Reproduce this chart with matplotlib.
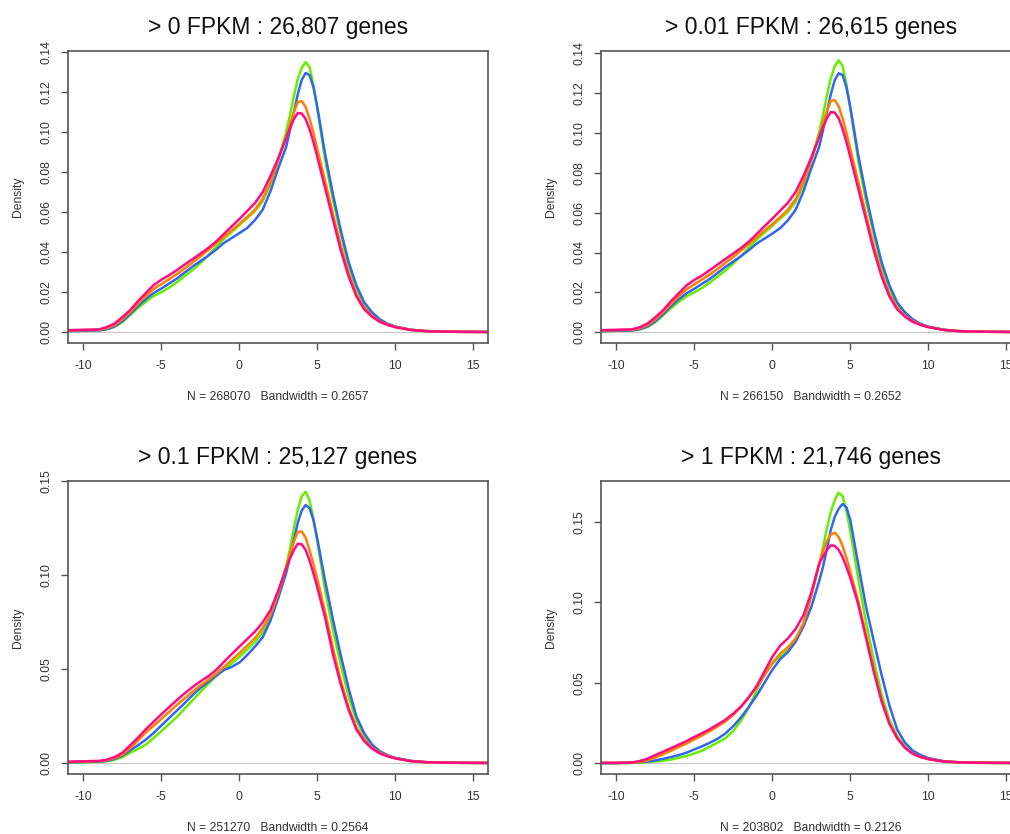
import matplotlib
matplotlib.use("Agg")
import matplotlib.pyplot as plt

plt.rcParams['font.family'] = ['Liberation Sans', 'DejaVu Sans']

x_grid = [-11, -10, -9, -8.5, -8, -7.5, -7, -6.5, -6, -5.5, -5, -4.5, -4, -3.5, -3, -2.5,
          -2, -1.5, -1, -0.5, 0, 0.5, 1, 1.5, 2, 2.5, 3, 3.25, 3.5, 3.75, 4, 4.25, 4.5,
          4.75, 5, 5.5, 6, 6.5, 7, 7.5, 8, 8.5, 9, 9.5, 10, 11, 12, 13, 14, 16]

# > 0 FPKM
p1_green = [0.0005, 0.0007, 0.0009, 0.0014, 0.0027, 0.0050, 0.0085, 0.0120, 0.0152, 0.0180,
            0.0200, 0.0222, 0.0250, 0.0280, 0.0310, 0.0345, 0.0383, 0.0425, 0.0465, 0.0500,
            0.0535, 0.0570, 0.0605, 0.0655, 0.0740, 0.0860, 0.1000, 0.1085, 0.1180, 0.1265,
            0.1320, 0.1350, 0.1325, 0.1235, 0.1115, 0.0860, 0.0660, 0.0490, 0.0330, 0.0215,
            0.0140, 0.0090, 0.0060, 0.0040, 0.0027, 0.0011, 0.0005, 0.0003, 0.0002, 0.0001]
p1_blue = [0.0005, 0.0007, 0.0009, 0.0015, 0.0028, 0.0055, 0.0090, 0.0130, 0.0165, 0.0195,
           0.0218, 0.0243, 0.0268, 0.0298, 0.0328, 0.0355, 0.0382, 0.0412, 0.0445, 0.0470,
           0.0495, 0.0520, 0.0560, 0.0612, 0.0705, 0.0820, 0.0925, 0.1010, 0.1100, 0.1190,
           0.1260, 0.1295, 0.1285, 0.1225, 0.1125, 0.0890, 0.0690, 0.0510, 0.0352, 0.0235,
           0.0150, 0.0100, 0.0065, 0.0042, 0.0028, 0.0012, 0.0005, 0.0003, 0.0002, 0.0001]
p1_orange = [0.0008, 0.0010, 0.0012, 0.0020, 0.0035, 0.0065, 0.0100, 0.0142, 0.0180, 0.0215,
             0.0240, 0.0265, 0.0290, 0.0318, 0.0348, 0.0378, 0.0410, 0.0443, 0.0475, 0.0508,
             0.0540, 0.0575, 0.0612, 0.0665, 0.0750, 0.0860, 0.0975, 0.1040, 0.1100, 0.1150,
             0.1155, 0.1125, 0.1068, 0.0995, 0.0915, 0.0755, 0.0590, 0.0432, 0.0295, 0.0190,
             0.0122, 0.0082, 0.0055, 0.0038, 0.0026, 0.0012, 0.0006, 0.0003, 0.0002, 0.0001]
p1_pink = [0.0010, 0.0012, 0.0014, 0.0025, 0.0043, 0.0075, 0.0110, 0.0155, 0.0195, 0.0235,
           0.0262, 0.0285, 0.0310, 0.0338, 0.0365, 0.0392, 0.0420, 0.0452, 0.0490, 0.0528,
           0.0565, 0.0605, 0.0645, 0.0700, 0.0780, 0.0870, 0.0970, 0.1020, 0.1065, 0.1095,
           0.1093, 0.1065, 0.1015, 0.0950, 0.0875, 0.0720, 0.0565, 0.0410, 0.0280, 0.0180,
           0.0115, 0.0078, 0.0052, 0.0036, 0.0025, 0.0011, 0.0005, 0.0003, 0.0002, 0.0001]

# > 0.01 FPKM
p2_green = [0.0005, 0.0007, 0.0009, 0.0014, 0.0027, 0.0050, 0.0085, 0.0120, 0.0152, 0.0180,
            0.0200, 0.0222, 0.0250, 0.0280, 0.0310, 0.0345, 0.0383, 0.0425, 0.0465, 0.0500,
            0.0535, 0.0570, 0.0605, 0.0655, 0.0740, 0.0862, 0.1005, 0.1090, 0.1188, 0.1275,
            0.1335, 0.1365, 0.1338, 0.1245, 0.1122, 0.0865, 0.0662, 0.0492, 0.0332, 0.0216,
            0.0140, 0.0090, 0.0060, 0.0040, 0.0027, 0.0011, 0.0005, 0.0003, 0.0002, 0.0001]
p2_blue = [0.0005, 0.0007, 0.0009, 0.0015, 0.0028, 0.0055, 0.0090, 0.0130, 0.0165, 0.0195,
           0.0218, 0.0243, 0.0268, 0.0298, 0.0328, 0.0355, 0.0382, 0.0412, 0.0445, 0.0470,
           0.0495, 0.0522, 0.0562, 0.0615, 0.0708, 0.0823, 0.0930, 0.1015, 0.1105, 0.1195,
           0.1265, 0.1300, 0.1292, 0.1230, 0.1130, 0.0893, 0.0692, 0.0512, 0.0353, 0.0236,
           0.0150, 0.0100, 0.0065, 0.0042, 0.0028, 0.0012, 0.0005, 0.0003, 0.0002, 0.0001]
p2_orange = [0.0008, 0.0010, 0.0012, 0.0020, 0.0035, 0.0065, 0.0100, 0.0142, 0.0180, 0.0215,
             0.0240, 0.0265, 0.0290, 0.0318, 0.0348, 0.0378, 0.0410, 0.0443, 0.0476, 0.0510,
             0.0542, 0.0578, 0.0615, 0.0668, 0.0755, 0.0865, 0.0982, 0.1048, 0.1110, 0.1162,
             0.1165, 0.1135, 0.1075, 0.1002, 0.0920, 0.0758, 0.0592, 0.0433, 0.0296, 0.0190,
             0.0122, 0.0082, 0.0055, 0.0038, 0.0026, 0.0012, 0.0006, 0.0003, 0.0002, 0.0001]
p2_pink = [0.0010, 0.0012, 0.0014, 0.0025, 0.0043, 0.0075, 0.0110, 0.0155, 0.0195, 0.0235,
           0.0262, 0.0285, 0.0312, 0.0340, 0.0368, 0.0395, 0.0423, 0.0455, 0.0493, 0.0532,
           0.0570, 0.0610, 0.0650, 0.0705, 0.0785, 0.0877, 0.0978, 0.1030, 0.1075, 0.1105,
           0.1103, 0.1075, 0.1022, 0.0955, 0.0880, 0.0723, 0.0567, 0.0412, 0.0281, 0.0180,
           0.0115, 0.0078, 0.0052, 0.0036, 0.0025, 0.0011, 0.0005, 0.0003, 0.0002, 0.0001]

# > 0.1 FPKM
p3_green = [0.0003, 0.0005, 0.0007, 0.0010, 0.0018, 0.0032, 0.0055, 0.0075, 0.0098, 0.0133,
            0.0170, 0.0208, 0.0246, 0.0290, 0.0335, 0.0378, 0.0422, 0.0462, 0.0498, 0.0530,
            0.0565, 0.0605, 0.0645, 0.0695, 0.0780, 0.0905, 0.1050, 0.1140, 0.1250, 0.1350,
            0.1420, 0.1445, 0.1400, 0.1300, 0.1180, 0.0920, 0.0710, 0.0525, 0.0355, 0.0228,
            0.0146, 0.0094, 0.0060, 0.0040, 0.0027, 0.0011, 0.0005, 0.0003, 0.0002, 0.0001]
p3_blue = [0.0004, 0.0006, 0.0008, 0.0012, 0.0022, 0.0040, 0.0068, 0.0095, 0.0125, 0.0160,
           0.0200, 0.0240, 0.0280, 0.0320, 0.0362, 0.0400, 0.0432, 0.0465, 0.0495, 0.0512,
           0.0535, 0.0575, 0.0620, 0.0670, 0.0760, 0.0880, 0.1010, 0.1100, 0.1190, 0.1280,
           0.1345, 0.1374, 0.1358, 0.1295, 0.1195, 0.0970, 0.0765, 0.0575, 0.0400, 0.0250,
           0.0160, 0.0100, 0.0064, 0.0042, 0.0028, 0.0012, 0.0005, 0.0003, 0.0002, 0.0001]
p3_orange = [0.0006, 0.0008, 0.0010, 0.0015, 0.0027, 0.0045, 0.0080, 0.0120, 0.0163, 0.0198,
             0.0235, 0.0272, 0.0310, 0.0345, 0.0380, 0.0413, 0.0443, 0.0475, 0.0510, 0.0548,
             0.0585, 0.0625, 0.0665, 0.0718, 0.0790, 0.0905, 0.1040, 0.1115, 0.1180, 0.1232,
             0.1233, 0.1200, 0.1135, 0.1060, 0.0980, 0.0805, 0.0615, 0.0440, 0.0298, 0.0190,
             0.0125, 0.0083, 0.0056, 0.0038, 0.0026, 0.0011, 0.0005, 0.0003, 0.0002, 0.0001]
p3_pink = [0.0008, 0.0010, 0.0012, 0.0018, 0.0032, 0.0055, 0.0095, 0.0135, 0.0180, 0.0220,
           0.0260, 0.0298, 0.0336, 0.0372, 0.0405, 0.0435, 0.0462, 0.0495, 0.0538, 0.0580,
           0.0620, 0.0660, 0.0700, 0.0750, 0.0815, 0.0920, 0.1035, 0.1090, 0.1135, 0.1168,
           0.1165, 0.1135, 0.1080, 0.1010, 0.0935, 0.0775, 0.0580, 0.0420, 0.0285, 0.0180,
           0.0118, 0.0078, 0.0052, 0.0036, 0.0025, 0.0011, 0.0005, 0.0003, 0.0002, 0.0001]

# > 1 FPKM
p4_green = [0.0000, 0.0000, 0.0002, 0.0004, 0.0007, 0.0011, 0.0015, 0.0022, 0.0033, 0.0045,
            0.0060, 0.0078, 0.0103, 0.0128, 0.0155, 0.0200, 0.0265, 0.0345, 0.0455, 0.0555,
            0.0620, 0.0660, 0.0700, 0.0760, 0.0860, 0.1040, 0.1230, 0.1340, 0.1460, 0.1560,
            0.1635, 0.1680, 0.1660, 0.1570, 0.1440, 0.1150, 0.0880, 0.0640, 0.0430, 0.0270,
            0.0170, 0.0105, 0.0064, 0.0041, 0.0027, 0.0011, 0.0005, 0.0003, 0.0002, 0.0001]
p4_blue = [0.0000, 0.0000, 0.0003, 0.0006, 0.0010, 0.0017, 0.0027, 0.0038, 0.0050, 0.0065,
           0.0085, 0.0105, 0.0127, 0.0152, 0.0185, 0.0230, 0.0285, 0.0350, 0.0420, 0.0500,
           0.0580, 0.0645, 0.0690, 0.0755, 0.0850, 0.0970, 0.1130, 0.1220, 0.1330, 0.1450,
           0.1530, 0.1580, 0.1610, 0.1590, 0.1510, 0.1240, 0.0975, 0.0760, 0.0550, 0.0360,
           0.0210, 0.0128, 0.0078, 0.0050, 0.0032, 0.0012, 0.0005, 0.0003, 0.0002, 0.0001]
p4_orange = [0.0001, 0.0002, 0.0003, 0.0008, 0.0017, 0.0035, 0.0055, 0.0077, 0.0100, 0.0122,
             0.0148, 0.0172, 0.0200, 0.0228, 0.0260, 0.0300, 0.0350, 0.0410, 0.0472, 0.0545,
             0.0620, 0.0680, 0.0720, 0.0775, 0.0870, 0.1040, 0.1240, 0.1320, 0.1380, 0.1420,
             0.1432, 0.1405, 0.1350, 0.1275, 0.1190, 0.1010, 0.0800, 0.0585, 0.0395, 0.0250,
             0.0160, 0.0098, 0.0060, 0.0039, 0.0026, 0.0010, 0.0005, 0.0003, 0.0002, 0.0001]
p4_pink = [0.0002, 0.0002, 0.0004, 0.0013, 0.0028, 0.0050, 0.0071, 0.0093, 0.0115, 0.0137,
           0.0163, 0.0186, 0.0212, 0.0240, 0.0270, 0.0308, 0.0352, 0.0410, 0.0480, 0.0570,
           0.0660, 0.0730, 0.0775, 0.0835, 0.0920, 0.1060, 0.1235, 0.1285, 0.1325, 0.1353,
           0.1350, 0.1325, 0.1280, 0.1220, 0.1150, 0.0990, 0.0780, 0.0570, 0.0385, 0.0245,
           0.0155, 0.0095, 0.0058, 0.0038, 0.0025, 0.0010, 0.0005, 0.0003, 0.0002, 0.0001]

titles = ["> 0 FPKM : 26,807 genes", "> 0.01 FPKM : 26,615 genes",
          "> 0.1 FPKM : 25,127 genes", "> 1 FPKM : 21,746 genes"]
xlabels = ["N = 268070   Bandwidth = 0.2657", "N = 266150   Bandwidth = 0.2652",
           "N = 251270   Bandwidth = 0.2564", "N = 203802   Bandwidth = 0.2126"]
x_ticks = [-10, -5, 0, 5, 10, 15]
y_ticks_small = [0.00, 0.02, 0.04, 0.06, 0.08, 0.10, 0.12, 0.14]
y_ticks_large = [0.00, 0.05, 0.10, 0.15]
y_tops = [0.1405, 0.1412, 0.1502, 0.1753]

colors = ["#66ee00", "#3366ee", "#ff7f00", "#ff0d80"]
panels = [(p1_green, p1_blue, p1_orange, p1_pink),
          (p2_green, p2_blue, p2_orange, p2_pink),
          (p3_green, p3_blue, p3_orange, p3_pink),
          (p4_green, p4_blue, p4_orange, p4_pink)]

W, H = 1010, 834
fig = plt.figure(figsize=(W / 100, H / 100), dpi=100)

# axes boxes in pixels: left, top, right, bottom
boxes = [(68, 51, 488, 343), (601, 51, 1021, 343),
         (68, 481, 488, 774), (601, 481, 1021, 774)]

fs = 8.7
for i, (l, t, r, b) in enumerate(boxes):
    ax = fig.add_axes([l / W, 1 - b / H, (r - l) / W, (b - t) / H])
    ax.axhline(0, color="#c8c8c8", lw=0.9, zorder=1)
    for ys, c in zip(panels[i], colors):
        ax.plot(x_grid, ys, color=c, lw=1.8, solid_capstyle="round", zorder=2)
    ax.set_xlim(-10.98, 15.94)
    top = y_tops[i]
    ax.set_ylim(-top * 0.04 / 1.04, top)
    ax.set_xticks(x_ticks)
    ax.set_xticklabels([str(v) for v in x_ticks])
    yt = y_ticks_small if i < 2 else y_ticks_large
    ax.set_yticks(yt)
    ax.set_yticklabels(["%.2f" % v for v in yt], rotation=90, va="center")
    ax.tick_params(direction="out", length=5, width=1.0, color="#555555",
                   labelsize=fs, labelcolor="#333333")
    ax.tick_params(axis="x", pad=7)
    ax.tick_params(axis="y", pad=6)
    for s in ax.spines.values():
        s.set_color("#555555")
        s.set_linewidth(1.2)
    ax.set_title(titles[i], fontsize=16.5, pad=12, color="#111111")
    ax.annotate(xlabels[i], xy=(0.5, 0), xycoords="axes fraction",
                xytext=(0, -39), textcoords="offset points",
                ha="center", va="center", fontsize=fs, color="#333333")
    ax.annotate("Density", xy=(0, 0.5), xycoords="axes fraction",
                xytext=(-36, 0), textcoords="offset points", rotation=90,
                ha="center", va="center", fontsize=fs, color="#333333")

fig.savefig("out.png", dpi=100)
